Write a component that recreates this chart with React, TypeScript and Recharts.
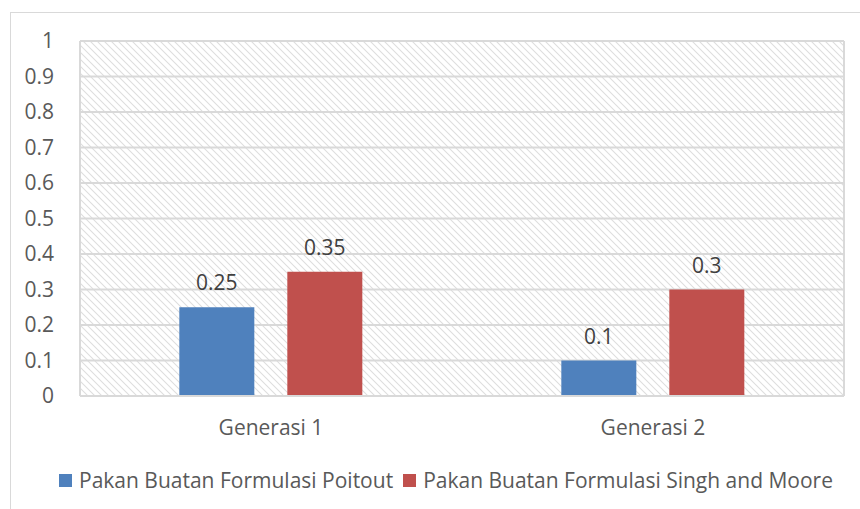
import { BarChart, Bar, XAxis, YAxis, CartesianGrid, ReferenceLine, LabelList } from 'recharts';

const categories = ['Generasi 1', 'Generasi 2'];
const poitout = [0.25, 0.1];
const singhMoore = [0.35, 0.3];
const yTicks = [0, 0.1, 0.2, 0.3, 0.4, 0.5, 0.6, 0.7, 0.8, 0.9, 1];
const seriesNames = ['Pakan Buatan Formulasi Poitout', 'Pakan Buatan Formulasi Singh and Moore'];
const seriesColors = ['#4f81bd', '#c0504d'];

const data = categories.map((name, i) => ({
  name,
  poitout: poitout[i],
  singh: singhMoore[i],
}));

const FONT = '"Open Sans", "Noto Sans", sans-serif';
const FS = 21;

export default function App() {
  return (
    <div style={{ position: 'absolute', left: 0, top: 0, width: 860, height: 509, background: '#fff', fontFamily: FONT, overflow: 'hidden' }}>
      {/* outer chart border */}
      <div style={{ position: 'absolute', left: 10, top: 12, width: 860, height: 520, border: '1px solid #d9d9d9' }} />
      <div style={{ position: 'absolute', left: 0, top: 0 }}>
        <BarChart
          width={860}
          height={509}
          data={data}
          margin={{ top: 41, right: 16, left: 0, bottom: 73 }}
          barCategoryGap="26%"
          barGap={33}
        >
          <defs>
            <pattern id="hatch" patternUnits="userSpaceOnUse" width={7} height={7}>
              <path d="M-2,-2 L9,9 M-2,5 L2,9 M5,-2 L9,2" stroke="#dedede" strokeWidth={1.1} />
            </pattern>
          </defs>
          <CartesianGrid vertical={false} stroke="#d9d9d9" strokeWidth={2} fill="url(#hatch)" />
          <XAxis
            dataKey="name"
            height={40}
            tickLine={false}
            axisLine={{ stroke: '#d9d9d9', strokeWidth: 2 }}
            tick={{ fill: '#595959', fontSize: FS, fontFamily: FONT }}
            tickMargin={18}
          />
          <XAxis xAxisId="n" type="number" domain={[0, 2]} hide />
          <YAxis
            domain={[0, 1]}
            ticks={yTicks}
            width={80}
            tickLine={false}
            axisLine={false}
            tick={{ fill: '#595959', fontSize: FS, fontFamily: FONT }}
            tickMargin={20}
            interval={0}
          />
          <ReferenceLine xAxisId="n" x={0} stroke="#d9d9d9" strokeWidth={2} />
          <ReferenceLine xAxisId="n" x={1} stroke="#d9d9d9" strokeWidth={2} />
          <ReferenceLine xAxisId="n" x={2} stroke="#d9d9d9" strokeWidth={2} />
          <Bar dataKey="poitout" fill={seriesColors[0]} isAnimationActive={false}>
            <LabelList dataKey="poitout" position="top" offset={17} fill="#404040" fontSize={FS} fontFamily={FONT} />
          </Bar>
          <Bar dataKey="singh" fill={seriesColors[1]} isAnimationActive={false}>
            <LabelList dataKey="singh" position="top" offset={17} fill="#404040" fontSize={FS} fontFamily={FONT} />
          </Bar>
        </BarChart>
      </div>
      <div style={{ position: 'absolute', left: 16, top: 466, width: 860, display: 'flex', justifyContent: 'center', alignItems: 'center', color: '#595959', fontSize: FS }}>
        {seriesNames.map((n, i) => (
          <div key={n} style={{ display: 'flex', alignItems: 'center', marginRight: i === 0 ? 10 : 0 }}>
            <span style={{ display: 'inline-block', width: 13, height: 13, background: seriesColors[i], marginRight: 7 }} />
            <span>{n}</span>
          </div>
        ))}
      </div>
    </div>
  );
}
